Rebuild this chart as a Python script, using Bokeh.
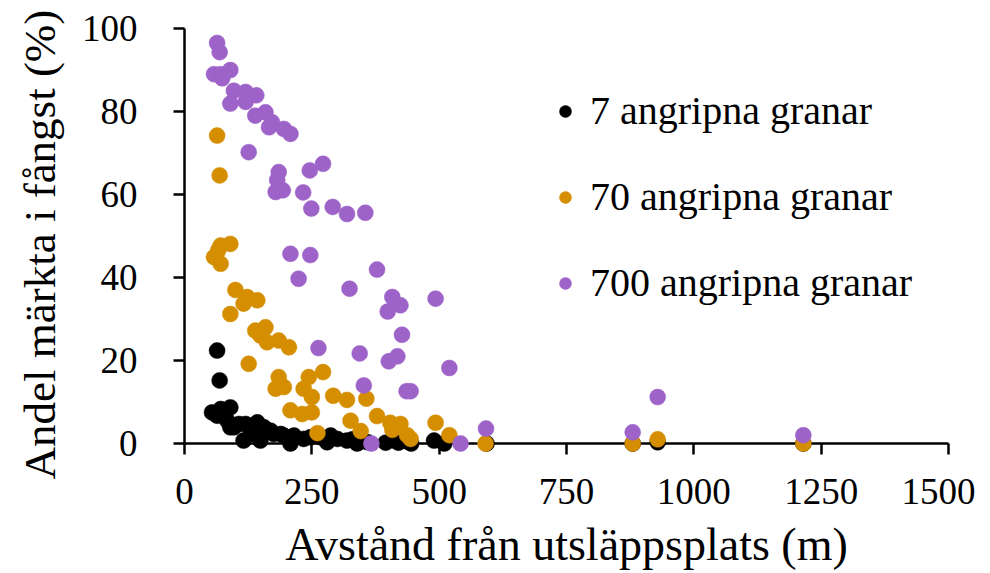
from bokeh.plotting import figure
from bokeh.models import FixedTicker, Legend, LegendItem, ColumnDataSource, Title
from bokeh.embed import file_html
from bokeh.resources import INLINE

# ---- data ----
x_ticks = [0, 250, 500, 750, 1000, 1250, 1500]
y_ticks = [0, 20, 40, 60, 80, 100]

series_names = ["7 angripna granar", "70 angripna granar", "700 angripna granar"]
x_title = "Avstånd från utsläppsplats (m)"
y_title = "Andel märkta i fångst (%)"

x7 = [64, 69, 54, 71, 90, 64, 84, 90, 107, 126, 143, 156, 130, 169, 189, 202, 215,
      234, 208, 267, 287, 300, 149, 116, 97, 120, 175, 195, 247, 280, 319, 339,
      330, 345, 360, 395, 408, 420, 437, 445, 490, 510, 593, 880, 929, 1215]
y7 = [22.4, 15.2, 7.5, 8.3, 8.7, 6.7, 5.5, 3.9, 4.7, 4.3, 5.1, 3.9, 2.3, 3.1, 2.3, 1.5, 1.9,
      1.1, 0.0, 1.5, 1.9, 1.1, 0.7, 0.7, 3.9, 4.7, 2.3, 1.9, 1.5, 0.3, 0.7, 0.0,
      1.0, 0.5, 0.3, 0.2, 0.8, 0.2, 0.5, 0.0, 0.7, 0.0, 0.0, 0.0, 0.3, 0.0]

x70 = [64, 69, 58, 66, 71, 90, 71, 100, 123, 143, 116, 90, 139, 159, 149, 162, 185,
       205, 126, 185, 179, 195, 244, 272, 234, 250, 292, 319, 357, 208, 231, 250,
       326, 261, 346, 378, 404, 424, 408, 437, 493, 520, 444, 591, 880, 929, 1215]
y70 = [74.2, 64.6, 44.9, 46.5, 47.7, 48.1, 43.3, 37.0, 35.3, 34.5, 33.7, 31.2, 27.2, 28.0, 26.0, 24.4, 24.8,
       23.2, 19.2, 16.0, 13.2, 13.6, 16.0, 17.2, 13.2, 11.2, 11.5, 10.5, 10.8, 8.0, 7.1, 7.5,
       5.5, 2.5, 3.0, 6.6, 5.0, 4.7, 3.3, 2.0, 5.0, 2.0, 1.1, 0.0, 0.0, 1.0, 0.0]

x700 = [64, 69, 58, 71, 90, 74, 97, 120, 141, 90, 120, 139, 159, 172, 166, 195, 208,
        126, 185, 182, 179, 193, 246, 272, 233, 249, 291, 319, 355, 208, 247, 224,
        324, 378, 408, 424, 399, 493, 427, 263, 344, 418, 401, 520, 352, 436, 444,
        592, 367, 542, 880, 929, 1215]
y700 = [96.5, 94.3, 89.0, 89.0, 90.0, 88.0, 85.0, 84.7, 83.9, 81.9, 82.3, 79.0, 79.8, 77.4, 76.2, 75.8, 74.6,
        70.2, 65.4, 63.5, 60.6, 61.0, 65.8, 67.4, 60.5, 56.6, 57.0, 55.3, 55.6, 45.7, 45.4, 39.7,
        37.3, 41.9, 35.3, 33.3, 31.8, 34.9, 26.2, 23.0, 21.7, 21.0, 19.8, 18.2, 14.0, 12.6, 12.6,
        3.6, 0.0, 0.0, 2.7, 11.2, 2.0]

colors = ["#000000", "#D48E00", "#9D63C8"]

FONT = "'Liberation Serif', 'Times New Roman', serif"

p = figure(width=975, height=572, x_range=(0, 1500), y_range=(0, 100),
           output_backend="svg", toolbar_location=None,
           min_border_left=184, min_border_right=27, min_border_top=28, min_border_bottom=128)
p.outline_line_color = None
p.xgrid.visible = False
p.ygrid.visible = False
p.background_fill_color = "white"
p.border_fill_color = "white"

renderers = []
for xs, ys, c in [(x7, y7, colors[0]), (x70, y70, colors[1]), (x700, y700, colors[2])]:
    src = ColumnDataSource(dict(x=xs, y=ys))
    r = p.scatter("x", "y", source=src, size=16, fill_color=c, line_color=c, line_width=0.5,
                  level="overlay")
    renderers.append(r)

for ax in (p.xaxis[0], p.yaxis[0]):
    ax.axis_line_width = 2.5
    ax.axis_line_color = "black"
    ax.major_tick_line_width = 2.5
    ax.major_tick_line_color = "black"
    ax.major_tick_out = 11
    ax.major_tick_in = 0
    ax.minor_tick_line_color = None
    ax.major_label_text_font = FONT
    ax.major_label_text_font_size = "37px"
    ax.major_label_text_color = "black"
    ax.axis_label_text_font = FONT
    ax.axis_label_text_font_size = "46px"
    ax.axis_label_text_font_style = "normal"
    ax.axis_label_text_color = "black"

p.xaxis[0].ticker = FixedTicker(ticks=x_ticks)
p.yaxis[0].ticker = FixedTicker(ticks=y_ticks)
p.xaxis[0].axis_label = x_title
p.xaxis[0].major_label_standoff = 24
p.yaxis[0].major_label_standoff = 36
p.xaxis[0].axis_label_standoff = 12

# y-axis title as a side title, shifted along the axis
ytitle = Title(text=y_title, align="left", offset=-36, vertical_align="middle", standoff=26,
               text_font=FONT, text_font_size="45px", text_font_style="normal",
               text_color="black")
p.add_layout(ytitle, "left")

legend = Legend(items=[LegendItem(label=n, renderers=[r]) for n, r in zip(series_names, renderers)],
                location=(366, 137), border_line_color=None, background_fill_alpha=0,
                padding=0, margin=0, spacing=39, glyph_width=30, glyph_height=30,
                label_standoff=10, label_text_font=FONT, label_text_font_size="40px",
                label_text_color="black")
p.add_layout(legend, "center")

open("out.html", "w").write(file_html(p, INLINE))
